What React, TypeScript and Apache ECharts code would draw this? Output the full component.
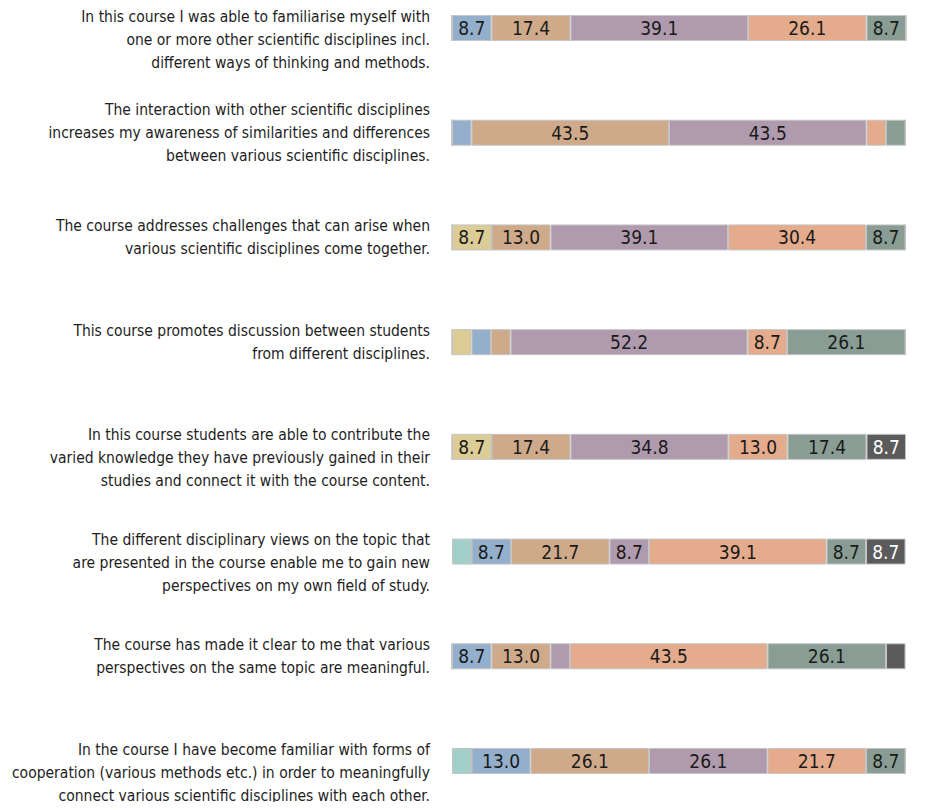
import React, { useEffect, useRef } from "react";
import * as echarts from "echarts";

// Survey statements, top to bottom
const statements: string[] = [
  "In this course I was able to familiarise myself with\none or more other scientific disciplines incl.\ndifferent ways of thinking and methods.",
  "The interaction with other scientific disciplines\nincreases my awareness of similarities and differences\nbetween various scientific disciplines.",
  "The course addresses challenges that can arise when\nvarious scientific disciplines come together.",
  "This course promotes discussion between students\nfrom different disciplines.",
  "In this course students are able to contribute the\nvaried knowledge they have previously gained in their\nstudies and connect it with the course content.",
  "The different disciplinary views on the topic that\nare presented in the course enable me to gain new\nperspectives on my own field of study.",
  "The course has made it clear to me that various\nperspectives on the same topic are meaningful.",
  "In the course I have become familiar with forms of\ncooperation (various methods etc.) in order to meaningfully\nconnect various scientific disciplines with each other.",
];

// Share of answers (%) per response level, one array per level (left to right)
const level1: number[] = [0, 0, 0, 0, 0, 4.3, 0, 4.3];
const level2: number[] = [0, 0, 8.7, 4.3, 8.7, 0, 0, 0];
const level3: number[] = [8.7, 4.3, 0, 4.3, 0, 8.7, 8.7, 13.0];
const level4: number[] = [17.4, 43.5, 13.0, 4.3, 17.4, 21.7, 13.0, 26.1];
const level5: number[] = [39.1, 43.5, 39.1, 52.2, 34.8, 8.7, 4.3, 26.1];
const level6: number[] = [26.1, 4.3, 30.4, 8.7, 13.0, 39.1, 43.5, 21.7];
const level7: number[] = [8.7, 4.3, 8.7, 26.1, 17.4, 8.7, 26.1, 8.7];
const level8: number[] = [0, 0, 0, 0, 8.7, 8.7, 4.3, 0];

const levels: number[][] = [level1, level2, level3, level4, level5, level6, level7, level8];
const levelColors: string[] = [
  "#a3cfcb",
  "#dccd96",
  "#93afcb",
  "#cfaa8a",
  "#b09aad",
  "#e4ab8c",
  "#899d94",
  "#5b5b5b",
];
const levelLabelColors: string[] = ["#1a1a1a", "#1a1a1a", "#1a1a1a", "#1a1a1a", "#1a1a1a", "#1a1a1a", "#1a1a1a", "#ffffff"];

// Statements whose text block starts at the bar instead of centring on it
const hangingLabel: boolean[] = [true, false, false, false, true, true, false, true];

const FONT = '"Liberation Sans Narrow", "Arial Narrow", "DejaVu Sans Condensed", sans-serif';

export default function App() {
  const ref = useRef<HTMLDivElement>(null);

  useEffect(() => {
    if (!ref.current) return;
    const chart = echarts.init(ref.current, undefined, { renderer: "svg" });

    const series = levels.map((vals, i) => ({
      type: "bar" as const,
      stack: "total",
      data: vals,
      barWidth: 26,
      itemStyle: {
        color: levelColors[i],
        borderColor: "#c4c4c4",
        borderWidth: 1,
      },
      label: {
        show: true,
        position: "inside" as const,
        fontFamily: FONT,
        fontSize: 19,
        color: levelLabelColors[i],
        formatter: (p: any) => (p.value >= 5 ? Number(p.value).toFixed(1) : ""),
      },
      silent: true,
    }));

    chart.setOption({
      animation: false,
      backgroundColor: "#ffffff",
      grid: { left: 444, right: 15, top: 20, bottom: 49, outerBoundsMode: "none", containLabel: false },
      xAxis: {
        type: "value",
        min: 0,
        max: 100,
        show: false,
      },
      yAxis: {
        type: "category",
        inverse: true,
        boundaryGap: false,
        data: statements,
        axisLine: { show: false },
        axisTick: { show: false },
        splitLine: { show: false },
        axisLabel: {
          margin: 22,
          fontFamily: FONT,
          fontSize: 15.5,
          lineHeight: 23,
          color: "#1e1e1e",
          align: "right",
          formatter: (value: string, index: number) => (hangingLabel[index] ? "\n" + value : value),
        },
      },
      series,
    });

    return () => chart.dispose();
  }, []);

  return <div ref={ref} style={{ width: "913px", height: "802px", marginBottom: "-8px" }} />;
}
